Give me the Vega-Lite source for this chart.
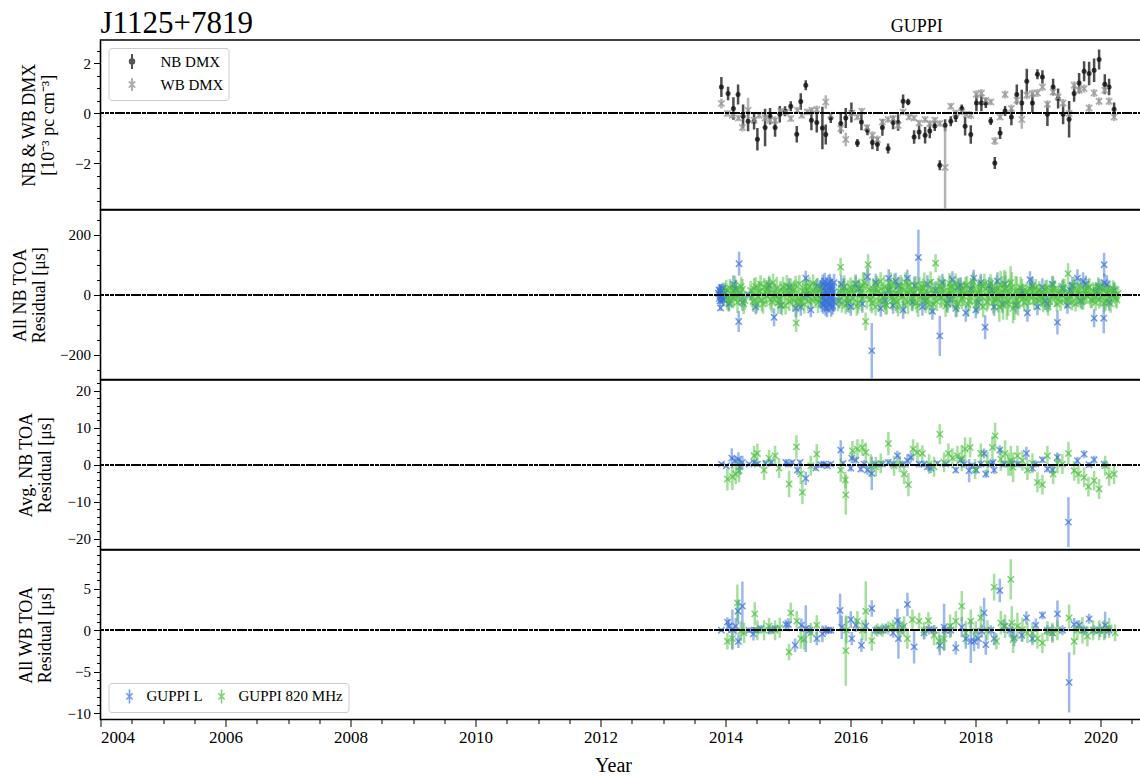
{
  "$schema": "https://vega.github.io/schema/vega-lite/v6.json",
  "padding": {"left": 10.5, "top": 6, "right": 0, "bottom": 0},
  "spacing": 0,
  "bounds": "flush",
  "resolve": {"scale": {"color": "independent", "shape": "independent"}},
  "config": {
    "font": "Liberation Serif",
    "view": {"stroke": "#000", "strokeWidth": 1.6},
    "axis": {"labelFont": "Liberation Serif", "titleFont": "Liberation Serif", "labelColor": "#000", "titleColor": "#000", "tickColor": "#000", "domain": false, "grid": false, "titleFontWeight": "normal", "labelFontSize": 15, "titleFontSize": 18, "titleLineHeight": 19, "tickSize": 7, "tickWidth": 1, "labelPadding": 3, "titlePadding": 11},
    "legend": {"labelFont": "Liberation Serif", "labelFontSize": 15, "labelColor": "#000", "strokeColor": "#cccccc", "fillColor": "rgba(255,255,255,0.8)", "cornerRadius": 3, "title": null}
  },
  "datasets": {
    "dmx": [
      {"s":"NB","t":2013.933,"v":1.05,"e":0.40},{"s":"NB","t":2014.040,"v":0.79,"e":0.27},{"s":"NB","t":2014.125,"v":0.19,"e":0.45},{"s":"NB","t":2014.200,"v":0.75,"e":0.40},
      {"s":"NB","t":2014.280,"v":-0.12,"e":0.47},{"s":"NB","t":2014.360,"v":-0.32,"e":0.40},{"s":"NB","t":2014.456,"v":-0.32,"e":0.33},{"s":"NB","t":2014.509,"v":-1.04,"e":0.45},
      {"s":"NB","t":2014.632,"v":-0.57,"e":0.75},{"s":"NB","t":2014.712,"v":-0.12,"e":0.33},{"s":"NB","t":2014.792,"v":-0.57,"e":0.37},{"s":"NB","t":2014.867,"v":-0.04,"e":0.33},
      {"s":"NB","t":2014.952,"v":0.08,"e":0.20},{"s":"NB","t":2015.043,"v":0.28,"e":0.20},{"s":"NB","t":2015.139,"v":-0.84,"e":0.33},{"s":"NB","t":2015.203,"v":0.47,"e":0.33},
      {"s":"NB","t":2015.283,"v":1.12,"e":0.20},{"s":"NB","t":2015.373,"v":-0.28,"e":0.40},{"s":"NB","t":2015.459,"v":-0.37,"e":0.40},{"s":"NB","t":2015.549,"v":-0.59,"e":0.85},
      {"s":"NB","t":2015.603,"v":-0.85,"e":0.40},{"s":"NB","t":2015.683,"v":-0.19,"e":0.20},{"s":"NB","t":2015.843,"v":-0.41,"e":0.40},{"s":"NB","t":2015.923,"v":-0.19,"e":0.40},
      {"s":"NB","t":2016.013,"v":0.03,"e":0.40},{"s":"NB","t":2016.109,"v":-1.19,"e":0.16},{"s":"NB","t":2016.173,"v":-0.35,"e":0.33},{"s":"NB","t":2016.269,"v":-0.68,"e":0.20},
      {"s":"NB","t":2016.349,"v":-1.17,"e":0.27},{"s":"NB","t":2016.429,"v":-1.24,"e":0.27},{"s":"NB","t":2016.509,"v":-0.57,"e":0.33},{"s":"NB","t":2016.600,"v":-1.41,"e":0.20},
      {"s":"NB","t":2016.680,"v":-0.37,"e":0.27},{"s":"NB","t":2016.760,"v":-0.37,"e":0.33},{"s":"NB","t":2016.840,"v":0.48,"e":0.27},{"s":"NB","t":2016.920,"v":0.45,"e":0.13},
      {"s":"NB","t":2017.016,"v":-0.95,"e":0.27},{"s":"NB","t":2017.096,"v":-0.75,"e":0.29},{"s":"NB","t":2017.192,"v":-0.88,"e":0.33},{"s":"NB","t":2017.267,"v":-0.71,"e":0.29},
      {"s":"NB","t":2017.347,"v":-0.51,"e":0.20},{"s":"NB","t":2017.427,"v":-2.08,"e":0.20},{"s":"NB","t":2017.512,"v":-0.48,"e":0.24},{"s":"NB","t":2017.603,"v":-0.32,"e":0.20},
      {"s":"NB","t":2017.683,"v":-0.15,"e":0.20},{"s":"NB","t":2017.779,"v":0.19,"e":0.16},{"s":"NB","t":2017.832,"v":-0.52,"e":0.37},{"s":"NB","t":2017.923,"v":-0.85,"e":0.37},
      {"s":"NB","t":2018.013,"v":0.41,"e":0.33},{"s":"NB","t":2018.093,"v":0.41,"e":0.33},{"s":"NB","t":2018.163,"v":0.41,"e":0.20},{"s":"NB","t":2018.243,"v":-0.31,"e":0.16},
      {"s":"NB","t":2018.307,"v":-1.99,"e":0.24},{"s":"NB","t":2018.392,"v":-0.79,"e":0.24},{"s":"NB","t":2018.472,"v":0.09,"e":0.20},{"s":"NB","t":2018.573,"v":-0.15,"e":0.33},
      {"s":"NB","t":2018.659,"v":0.75,"e":0.40},{"s":"NB","t":2018.739,"v":0.41,"e":0.53},{"s":"NB","t":2018.819,"v":1.28,"e":0.50},{"s":"NB","t":2018.909,"v":0.41,"e":0.40},
      {"s":"NB","t":2018.989,"v":1.56,"e":0.20},{"s":"NB","t":2019.069,"v":1.45,"e":0.27},{"s":"NB","t":2019.149,"v":-0.04,"e":0.47},{"s":"NB","t":2019.240,"v":1.05,"e":0.33},
      {"s":"NB","t":2019.320,"v":0.59,"e":0.40},{"s":"NB","t":2019.400,"v":-0.04,"e":0.40},{"s":"NB","t":2019.496,"v":-0.24,"e":0.73},{"s":"NB","t":2019.576,"v":0.79,"e":0.33},
      {"s":"NB","t":2019.656,"v":1.21,"e":0.40},{"s":"NB","t":2019.736,"v":1.68,"e":0.40},{"s":"NB","t":2019.816,"v":1.59,"e":0.47},{"s":"NB","t":2019.896,"v":1.72,"e":0.47},
      {"s":"NB","t":2019.976,"v":2.15,"e":0.40},{"s":"NB","t":2020.067,"v":1.16,"e":0.40},{"s":"NB","t":2020.136,"v":1.05,"e":0.33},{"s":"NB","t":2020.216,"v":0.16,"e":0.27},
      {"s":"WB","t":2013.933,"v":0.39,"e":0.20},{"s":"WB","t":2014.029,"v":-0.01,"e":0.13},{"s":"WB","t":2014.109,"v":-0.08,"e":0.13},{"s":"WB","t":2014.205,"v":-0.19,"e":0.13},
      {"s":"WB","t":2014.269,"v":-0.57,"e":0.16},{"s":"WB","t":2014.360,"v":0.12,"e":0.50},{"s":"WB","t":2014.456,"v":-0.28,"e":0.13},{"s":"WB","t":2014.536,"v":-0.08,"e":0.13},
      {"s":"WB","t":2014.632,"v":-0.19,"e":0.13},{"s":"WB","t":2014.712,"v":-0.28,"e":0.13},{"s":"WB","t":2014.792,"v":-0.28,"e":0.16},{"s":"WB","t":2014.883,"v":0.08,"e":0.13},
      {"s":"WB","t":2014.963,"v":0.05,"e":0.13},{"s":"WB","t":2015.043,"v":-0.21,"e":0.13},{"s":"WB","t":2015.149,"v":0.12,"e":0.13},{"s":"WB","t":2015.219,"v":-0.08,"e":0.13},
      {"s":"WB","t":2015.309,"v":0.05,"e":0.13},{"s":"WB","t":2015.379,"v":0.12,"e":0.13},{"s":"WB","t":2015.459,"v":0.15,"e":0.16},{"s":"WB","t":2015.603,"v":0.45,"e":0.27},
      {"s":"WB","t":2015.683,"v":-0.08,"e":0.13},{"s":"WB","t":2015.843,"v":-0.61,"e":0.16},{"s":"WB","t":2015.923,"v":-1.05,"e":0.27},{"s":"WB","t":2016.019,"v":0.01,"e":0.16},
      {"s":"WB","t":2016.109,"v":-0.15,"e":0.13},{"s":"WB","t":2016.179,"v":0.08,"e":0.13},{"s":"WB","t":2016.259,"v":-0.57,"e":0.13},{"s":"WB","t":2016.349,"v":-0.88,"e":0.16},
      {"s":"WB","t":2016.429,"v":-1.05,"e":0.16},{"s":"WB","t":2016.509,"v":-0.35,"e":0.13},{"s":"WB","t":2016.600,"v":-0.25,"e":0.13},{"s":"WB","t":2016.680,"v":-0.21,"e":0.13},
      {"s":"WB","t":2016.760,"v":-0.48,"e":0.16},{"s":"WB","t":2016.840,"v":0.05,"e":0.13},{"s":"WB","t":2016.936,"v":-0.15,"e":0.13},{"s":"WB","t":2017.016,"v":-0.19,"e":0.13},
      {"s":"WB","t":2017.096,"v":-0.39,"e":0.13},{"s":"WB","t":2017.192,"v":-0.25,"e":0.13},{"s":"WB","t":2017.267,"v":-0.41,"e":0.13},{"s":"WB","t":2017.347,"v":-0.28,"e":0.13},
      {"s":"WB","t":2017.427,"v":-0.41,"e":0.13},{"s":"WB","t":2017.512,"v":-2.17,"e":1.75},{"s":"WB","t":2017.603,"v":0.28,"e":0.13},{"s":"WB","t":2017.683,"v":0.01,"e":0.13},
      {"s":"WB","t":2017.779,"v":0.05,"e":0.13},{"s":"WB","t":2017.853,"v":-0.04,"e":0.13},{"s":"WB","t":2017.923,"v":-0.08,"e":0.16},{"s":"WB","t":2018.013,"v":0.76,"e":0.16},
      {"s":"WB","t":2018.093,"v":0.81,"e":0.16},{"s":"WB","t":2018.163,"v":0.52,"e":0.13},{"s":"WB","t":2018.243,"v":0.45,"e":0.13},{"s":"WB","t":2018.307,"v":-1.11,"e":0.16},
      {"s":"WB","t":2018.392,"v":-0.15,"e":0.13},{"s":"WB","t":2018.472,"v":0.75,"e":0.16},{"s":"WB","t":2018.573,"v":0.19,"e":0.16},{"s":"WB","t":2018.659,"v":0.52,"e":0.16},
      {"s":"WB","t":2018.739,"v":-0.25,"e":0.37},{"s":"WB","t":2018.819,"v":0.72,"e":0.16},{"s":"WB","t":2018.909,"v":0.79,"e":0.16},{"s":"WB","t":2018.989,"v":0.81,"e":0.16},
      {"s":"WB","t":2019.069,"v":1.05,"e":0.16},{"s":"WB","t":2019.149,"v":0.36,"e":0.16},{"s":"WB","t":2019.240,"v":0.85,"e":0.16},{"s":"WB","t":2019.320,"v":0.65,"e":0.16},
      {"s":"WB","t":2019.400,"v":0.41,"e":0.16},{"s":"WB","t":2019.496,"v":-0.01,"e":0.16},{"s":"WB","t":2019.576,"v":1.12,"e":0.16},{"s":"WB","t":2019.656,"v":0.92,"e":0.16},
      {"s":"WB","t":2019.736,"v":0.99,"e":0.16},{"s":"WB","t":2019.816,"v":0.21,"e":0.16},{"s":"WB","t":2019.896,"v":0.81,"e":0.16},{"s":"WB","t":2019.976,"v":0.48,"e":0.16},
      {"s":"WB","t":2020.067,"v":0.92,"e":0.16},{"s":"WB","t":2020.136,"v":0.48,"e":0.16},{"s":"WB","t":2020.216,"v":-0.15,"e":0.16}
    ],
    "nb": [
      {"s":"L","t":2013.885,"v":5,"e":18},{"s":"L","t":2013.895,"v":16,"e":20},{"s":"L","t":2013.90,"v":-12,"e":20},{"s":"L","t":2013.91,"v":-20,"e":18},
      {"s":"L","t":2013.915,"v":14,"e":22},{"s":"L","t":2013.92,"v":-44,"e":10},{"s":"L","t":2013.925,"v":10,"e":22},{"s":"L","t":2013.93,"v":-5,"e":20},
      {"s":"L","t":2013.94,"v":-8,"e":20},{"s":"L","t":2013.945,"v":18,"e":18},{"s":"L","t":2013.955,"v":22,"e":18},{"s":"L","t":2013.96,"v":-15,"e":22},
      {"s":"L","t":2013.97,"v":-18,"e":20},{"s":"L","t":2013.975,"v":8,"e":20},{"s":"L","t":2013.98,"v":4,"e":18},
      {"s":"L","t":2014.056,"v":-30,"e":25},{"s":"L","t":2014.125,"v":35,"e":30},{"s":"L","t":2014.16,"v":20,"e":30},{"s":"L","t":2014.21,"v":-89,"e":35},
      {"s":"L","t":2014.216,"v":103,"e":40},{"s":"L","t":2014.269,"v":-25,"e":28},{"s":"L","t":2014.365,"v":0,"e":10},{"s":"L","t":2014.483,"v":-40,"e":25},
      {"s":"L","t":2014.696,"v":30,"e":28},{"s":"L","t":2014.776,"v":-75,"e":30},{"s":"L","t":2014.883,"v":-35,"e":28},{"s":"L","t":2015.016,"v":25,"e":30},
      {"s":"L","t":2015.123,"v":-45,"e":30},{"s":"L","t":2015.203,"v":-40,"e":30},{"s":"L","t":2015.283,"v":55,"e":25},{"s":"L","t":2015.293,"v":0,"e":20},
      {"s":"L","t":2015.363,"v":-50,"e":25},{"s":"L","t":2015.469,"v":30,"e":25},
      {"s":"L","t":2015.525,"v":20,"e":30},{"s":"L","t":2015.53,"v":-15,"e":30},{"s":"L","t":2015.54,"v":-30,"e":28},{"s":"L","t":2015.548,"v":25,"e":32},
      {"s":"L","t":2015.555,"v":35,"e":32},{"s":"L","t":2015.563,"v":-35,"e":28},{"s":"L","t":2015.57,"v":-10,"e":30},{"s":"L","t":2015.578,"v":12,"e":30},
      {"s":"L","t":2015.585,"v":45,"e":28},{"s":"L","t":2015.593,"v":-20,"e":34},{"s":"L","t":2015.60,"v":-40,"e":30},{"s":"L","t":2015.608,"v":30,"e":28},
      {"s":"L","t":2015.615,"v":10,"e":34},{"s":"L","t":2015.623,"v":-45,"e":30},{"s":"L","t":2015.63,"v":-25,"e":30},{"s":"L","t":2015.638,"v":5,"e":32},
      {"s":"L","t":2015.645,"v":38,"e":28},{"s":"L","t":2015.653,"v":-30,"e":30},{"s":"L","t":2015.66,"v":-5,"e":32},{"s":"L","t":2015.668,"v":42,"e":28},
      {"s":"L","t":2015.675,"v":28,"e":30},{"s":"L","t":2015.683,"v":-12,"e":30},{"s":"L","t":2015.69,"v":-45,"e":28},{"s":"L","t":2015.698,"v":22,"e":32},
      {"s":"L","t":2015.705,"v":15,"e":30},{"s":"L","t":2015.713,"v":-38,"e":28},{"s":"L","t":2015.72,"v":-20,"e":32},{"s":"L","t":2015.728,"v":8,"e":30},
      {"s":"L","t":2015.735,"v":40,"e":30},{"s":"L","t":2015.74,"v":-25,"e":30},
      {"s":"L","t":2015.816,"v":-20,"e":25},{"s":"L","t":2015.85,"v":35,"e":30},{"s":"L","t":2015.896,"v":25,"e":30},{"s":"L","t":2015.95,"v":-28,"e":30},
      {"s":"L","t":2016.003,"v":-40,"e":30},{"s":"L","t":2016.083,"v":35,"e":28},{"s":"L","t":2016.13,"v":20,"e":28},
      {"s":"L","t":2016.189,"v":-30,"e":30},{"s":"L","t":2016.269,"v":60,"e":30},{"s":"L","t":2016.339,"v":-186,"e":92},{"s":"L","t":2016.403,"v":40,"e":30},
      {"s":"L","t":2016.483,"v":-45,"e":28},{"s":"L","t":2016.55,"v":-20,"e":30},{"s":"L","t":2016.605,"v":15,"e":20},{"s":"L","t":2016.61,"v":55,"e":30},{"s":"L","t":2016.68,"v":-35,"e":28},
      {"s":"L","t":2016.72,"v":45,"e":28},{"s":"L","t":2016.765,"v":30,"e":30},{"s":"L","t":2016.84,"v":-50,"e":30},{"s":"L","t":2016.909,"v":55,"e":28},{"s":"L","t":2016.989,"v":-25,"e":30},
      {"s":"L","t":2017.02,"v":30,"e":30},{"s":"L","t":2017.085,"v":124,"e":92},{"s":"L","t":2017.149,"v":-40,"e":30},{"s":"L","t":2017.19,"v":-20,"e":28},{"s":"L","t":2017.229,"v":35,"e":30},{"s":"L","t":2017.309,"v":-55,"e":28},
      {"s":"L","t":2017.36,"v":15,"e":30},{"s":"L","t":2017.427,"v":-137,"e":67},{"s":"L","t":2017.469,"v":40,"e":30},{"s":"L","t":2017.549,"v":-30,"e":30},{"s":"L","t":2017.59,"v":-15,"e":28},{"s":"L","t":2017.629,"v":50,"e":28},
      {"s":"L","t":2017.683,"v":-45,"e":30},{"s":"L","t":2017.72,"v":25,"e":30},{"s":"L","t":2017.763,"v":30,"e":28},{"s":"L","t":2017.843,"v":-60,"e":30},{"s":"L","t":2017.923,"v":20,"e":25},
      {"s":"L","t":2017.97,"v":55,"e":28},{"s":"L","t":2018.003,"v":-50,"e":28},{"s":"L","t":2018.05,"v":-25,"e":30},{"s":"L","t":2018.083,"v":40,"e":30},{"s":"L","t":2018.152,"v":-108,"e":40},{"s":"L","t":2018.216,"v":30,"e":28},
      {"s":"L","t":2018.26,"v":15,"e":30},{"s":"L","t":2018.296,"v":-40,"e":30},{"s":"L","t":2018.349,"v":45,"e":30},{"s":"L","t":2018.429,"v":-30,"e":30},{"s":"L","t":2018.47,"v":35,"e":28},
      {"s":"L","t":2018.65,"v":-35,"e":30},{"s":"L","t":2018.749,"v":10,"e":25},
      {"s":"L","t":2018.829,"v":-60,"e":30},{"s":"L","t":2018.87,"v":50,"e":28},{"s":"L","t":2018.909,"v":30,"e":28},{"s":"L","t":2018.989,"v":-40,"e":28},{"s":"L","t":2019.069,"v":25,"e":30},
      {"s":"L","t":2019.11,"v":-20,"e":30},{"s":"L","t":2019.149,"v":-30,"e":28},{"s":"L","t":2019.229,"v":35,"e":28},{"s":"L","t":2019.309,"v":-92,"e":40},{"s":"L","t":2019.389,"v":20,"e":28},
      {"s":"L","t":2019.469,"v":-35,"e":28},{"s":"L","t":2019.51,"v":15,"e":28},{"s":"L","t":2019.549,"v":30,"e":30},{"s":"L","t":2019.629,"v":55,"e":30},{"s":"L","t":2019.683,"v":-20,"e":25},
      {"s":"L","t":2019.72,"v":45,"e":30},{"s":"L","t":2019.763,"v":35,"e":28},{"s":"L","t":2019.896,"v":-78,"e":30},{"s":"L","t":2019.93,"v":10,"e":28},{"s":"L","t":2019.976,"v":25,"e":28},{"s":"L","t":2020.05,"v":-78,"e":50},
      {"s":"L","t":2020.056,"v":100,"e":40},{"s":"L","t":2020.06,"v":40,"e":30},{"s":"L","t":2020.10,"v":35,"e":30},{"s":"L","t":2020.136,"v":-25,"e":28},{"s":"L","t":2020.216,"v":15,"e":25},
      {"s":"820","t":2013.99,"v":10,"e":30},{"s":"820","t":2014.01,"v":18,"e":32},{"s":"820","t":2014.03,"v":-15,"e":35},{"s":"820","t":2014.05,"v":-26,"e":30},
      {"s":"820","t":2014.07,"v":22,"e":30},{"s":"820","t":2014.09,"v":4,"e":36},{"s":"820","t":2014.11,"v":-8,"e":38},{"s":"820","t":2014.13,"v":-12,"e":30},
      {"s":"820","t":2014.15,"v":30,"e":32},{"s":"820","t":2014.17,"v":14,"e":34},{"s":"820","t":2014.19,"v":-25,"e":36},{"s":"820","t":2014.21,"v":-4,"e":30},
      {"s":"820","t":2014.23,"v":5,"e":30},{"s":"820","t":2014.25,"v":28,"e":32},{"s":"820","t":2014.27,"v":18,"e":34},{"s":"820","t":2014.29,"v":-30,"e":34},
      {"s":"820","t":2014.31,"v":-20,"e":30},
      {"s":"820","t":2014.40,"v":14,"e":32},{"s":"820","t":2014.42,"v":-8,"e":32},{"s":"820","t":2014.44,"v":-22,"e":35},{"s":"820","t":2014.46,"v":20,"e":36},
      {"s":"820","t":2014.48,"v":28,"e":30},{"s":"820","t":2014.50,"v":-30,"e":30},{"s":"820","t":2014.52,"v":-6,"e":38},{"s":"820","t":2014.54,"v":12,"e":34},
      {"s":"820","t":2014.56,"v":35,"e":30},{"s":"820","t":2014.58,"v":-18,"e":38},{"s":"820","t":2014.60,"v":-30,"e":33},{"s":"820","t":2014.62,"v":26,"e":30},
      {"s":"820","t":2014.64,"v":9,"e":40},{"s":"820","t":2014.66,"v":-4,"e":35},{"s":"820","t":2014.68,"v":20,"e":28},{"s":"820","t":2014.70,"v":34,"e":30},
      {"s":"820","t":2014.72,"v":-15,"e":35},{"s":"820","t":2014.74,"v":-24,"e":36},{"s":"820","t":2014.76,"v":40,"e":30},{"s":"820","t":2014.78,"v":6,"e":32},
      {"s":"820","t":2014.80,"v":-4,"e":32},{"s":"820","t":2014.82,"v":22,"e":38},{"s":"820","t":2014.84,"v":-28,"e":36},{"s":"820","t":2014.86,"v":-14,"e":30},
      {"s":"820","t":2014.88,"v":16,"e":30},{"s":"820","t":2014.90,"v":-34,"e":34},{"s":"820","t":2014.92,"v":26,"e":34},{"s":"820","t":2014.94,"v":10,"e":30},
      {"s":"820","t":2014.96,"v":-36,"e":30},{"s":"820","t":2014.98,"v":30,"e":36},{"s":"820","t":2015.00,"v":3,"e":35},{"s":"820","t":2015.02,"v":-22,"e":32},
      {"s":"820","t":2015.04,"v":24,"e":31},{"s":"820","t":2015.06,"v":2,"e":38},{"s":"820","t":2015.08,"v":-18,"e":38},{"s":"820","t":2015.10,"v":18,"e":30},
      {"s":"820","t":2015.12,"v":33,"e":30},{"s":"820","t":2015.13,"v":-94,"e":30},{"s":"820","t":2015.14,"v":-28,"e":35},{"s":"820","t":2015.16,"v":-10,"e":33},
      {"s":"820","t":2015.18,"v":36,"e":30},{"s":"820","t":2015.20,"v":-24,"e":30},{"s":"820","t":2015.22,"v":-6,"e":34},{"s":"820","t":2015.24,"v":11,"e":35},
      {"s":"820","t":2015.26,"v":-32,"e":30},{"s":"820","t":2015.28,"v":27,"e":30},{"s":"820","t":2015.30,"v":14,"e":36},{"s":"820","t":2015.32,"v":-21,"e":34},
      {"s":"820","t":2015.34,"v":28,"e":32},{"s":"820","t":2015.36,"v":6,"e":38},{"s":"820","t":2015.38,"v":-16,"e":30},{"s":"820","t":2015.40,"v":38,"e":30},
      {"s":"820","t":2015.42,"v":8,"e":38},{"s":"820","t":2015.44,"v":-12,"e":32},{"s":"820","t":2015.46,"v":24,"e":30},{"s":"820","t":2015.48,"v":-26,"e":35},
      {"s":"820","t":2015.50,"v":-10,"e":34},{"s":"820","t":2015.52,"v":19,"e":30},
      {"s":"820","t":2015.80,"v":-20,"e":35},{"s":"820","t":2015.82,"v":12,"e":34},{"s":"820","t":2015.84,"v":92,"e":30},{"s":"820","t":2015.86,"v":-30,"e":30},
      {"s":"820","t":2015.88,"v":15,"e":38},{"s":"820","t":2015.90,"v":28,"e":36},{"s":"820","t":2015.92,"v":-35,"e":30},{"s":"820","t":2015.94,"v":-10,"e":32},
      {"s":"820","t":2015.96,"v":8,"e":40},{"s":"820","t":2015.98,"v":-22,"e":38},{"s":"820","t":2016.00,"v":25,"e":32},{"s":"820","t":2016.02,"v":16,"e":30},
      {"s":"820","t":2016.04,"v":-12,"e":36},{"s":"820","t":2016.06,"v":4,"e":34},{"s":"820","t":2016.08,"v":38,"e":30},{"s":"820","t":2016.10,"v":-38,"e":32},
      {"s":"820","t":2016.12,"v":-28,"e":34},{"s":"820","t":2016.14,"v":24,"e":30},{"s":"820","t":2016.16,"v":4,"e":30},{"s":"820","t":2016.18,"v":-14,"e":40},
      {"s":"820","t":2016.20,"v":30,"e":45},{"s":"820","t":2016.22,"v":40,"e":35},{"s":"820","t":2016.24,"v":-89,"e":30},{"s":"820","t":2016.26,"v":-6,"e":42},
      {"s":"820","t":2016.28,"v":100,"e":35},{"s":"820","t":2016.30,"v":18,"e":36},{"s":"820","t":2016.32,"v":-15,"e":40},{"s":"820","t":2016.34,"v":-28,"e":34},
      {"s":"820","t":2016.36,"v":20,"e":35},{"s":"820","t":2016.38,"v":8,"e":40},{"s":"820","t":2016.40,"v":-40,"e":30},{"s":"820","t":2016.42,"v":32,"e":30},
      {"s":"820","t":2016.44,"v":12,"e":38},{"s":"820","t":2016.46,"v":-20,"e":36},{"s":"820","t":2016.48,"v":45,"e":30},{"s":"820","t":2016.50,"v":2,"e":32},
      {"s":"820","t":2016.52,"v":-8,"e":34},{"s":"820","t":2016.54,"v":26,"e":38},{"s":"820","t":2016.56,"v":-30,"e":36},{"s":"820","t":2016.58,"v":-36,"e":30},
      {"s":"820","t":2016.60,"v":22,"e":30},{"s":"820","t":2016.62,"v":14,"e":34},{"s":"820","t":2016.64,"v":35,"e":40},{"s":"820","t":2016.66,"v":-10,"e":40},
      {"s":"820","t":2016.68,"v":-18,"e":32},{"s":"820","t":2016.70,"v":38,"e":32},{"s":"820","t":2016.72,"v":6,"e":36},{"s":"820","t":2016.74,"v":-24,"e":36},
      {"s":"820","t":2016.76,"v":-42,"e":30},{"s":"820","t":2016.78,"v":0,"e":30},{"s":"820","t":2016.80,"v":28,"e":38},{"s":"820","t":2016.82,"v":20,"e":38},
      {"s":"820","t":2016.84,"v":-5,"e":30},{"s":"820","t":2016.86,"v":-32,"e":32},{"s":"820","t":2016.88,"v":40,"e":35},{"s":"820","t":2016.90,"v":10,"e":36},
      {"s":"820","t":2016.92,"v":-25,"e":40},{"s":"820","t":2016.94,"v":30,"e":30},{"s":"820","t":2016.96,"v":14,"e":30},{"s":"820","t":2016.98,"v":-18,"e":34},
      {"s":"820","t":2017.00,"v":-12,"e":34},{"s":"820","t":2017.02,"v":6,"e":38},{"s":"820","t":2017.04,"v":32,"e":30},{"s":"820","t":2017.06,"v":-28,"e":32},
      {"s":"820","t":2017.08,"v":-36,"e":38},{"s":"820","t":2017.10,"v":22,"e":36},{"s":"820","t":2017.12,"v":9,"e":36},{"s":"820","t":2017.14,"v":-4,"e":30},
      {"s":"820","t":2017.16,"v":24,"e":30},{"s":"820","t":2017.18,"v":34,"e":40},{"s":"820","t":2017.20,"v":-20,"e":40},{"s":"820","t":2017.22,"v":-16,"e":34},
      {"s":"820","t":2017.24,"v":3,"e":30},{"s":"820","t":2017.26,"v":-34,"e":30},{"s":"820","t":2017.28,"v":42,"e":35},{"s":"820","t":2017.30,"v":16,"e":36},
      {"s":"820","t":2017.32,"v":-30,"e":33},{"s":"820","t":2017.34,"v":4,"e":38},{"s":"820","t":2017.36,"v":105,"e":30},{"s":"820","t":2017.38,"v":-22,"e":32},
      {"s":"820","t":2017.40,"v":18,"e":38},{"s":"820","t":2017.42,"v":28,"e":36},{"s":"820","t":2017.44,"v":-10,"e":34},{"s":"820","t":2017.46,"v":-8,"e":34},
      {"s":"820","t":2017.48,"v":30,"e":30},{"s":"820","t":2017.50,"v":12,"e":40},{"s":"820","t":2017.52,"v":-38,"e":36},{"s":"820","t":2017.54,"v":-26,"e":30},
      {"s":"820","t":2017.56,"v":7,"e":30},{"s":"820","t":2017.58,"v":38,"e":34},{"s":"820","t":2017.60,"v":26,"e":40},{"s":"820","t":2017.62,"v":-2,"e":36},
      {"s":"820","t":2017.64,"v":-16,"e":32},{"s":"820","t":2017.66,"v":18,"e":30},{"s":"820","t":2017.68,"v":36,"e":35},{"s":"820","t":2017.70,"v":-36,"e":38},
      {"s":"820","t":2017.72,"v":-28,"e":30},{"s":"820","t":2017.74,"v":24,"e":32},{"s":"820","t":2017.76,"v":10,"e":38},{"s":"820","t":2017.78,"v":-12,"e":36},
      {"s":"820","t":2017.80,"v":-4,"e":34},{"s":"820","t":2017.82,"v":6,"e":40},{"s":"820","t":2017.84,"v":29,"e":30},{"s":"820","t":2017.86,"v":32,"e":30},
      {"s":"820","t":2017.88,"v":-33,"e":40},{"s":"820","t":2017.90,"v":-20,"e":34},{"s":"820","t":2017.92,"v":15,"e":32},{"s":"820","t":2017.94,"v":2,"e":38},
      {"s":"820","t":2017.96,"v":44,"e":30},{"s":"820","t":2017.98,"v":22,"e":32},{"s":"820","t":2018.00,"v":-22,"e":36},{"s":"820","t":2018.02,"v":-30,"e":36},
      {"s":"820","t":2018.04,"v":5,"e":38},{"s":"820","t":2018.06,"v":14,"e":30},{"s":"820","t":2018.08,"v":33,"e":30},{"s":"820","t":2018.10,"v":-6,"e":40},
      {"s":"820","t":2018.12,"v":-40,"e":35},{"s":"820","t":2018.14,"v":36,"e":34},{"s":"820","t":2018.16,"v":20,"e":32},{"s":"820","t":2018.18,"v":-24,"e":32},
      {"s":"820","t":2018.20,"v":-8,"e":40},{"s":"820","t":2018.22,"v":8,"e":38},{"s":"820","t":2018.24,"v":38,"e":30},{"s":"820","t":2018.26,"v":26,"e":30},
      {"s":"820","t":2018.28,"v":-26,"e":36},{"s":"820","t":2018.30,"v":-16,"e":40},{"s":"820","t":2018.32,"v":12,"e":34},{"s":"820","t":2018.34,"v":20,"e":45},
      {"s":"820","t":2018.36,"v":-14,"e":45},{"s":"820","t":2018.38,"v":-40,"e":50},{"s":"820","t":2018.40,"v":30,"e":50},{"s":"820","t":2018.42,"v":10,"e":52},
      {"s":"820","t":2018.44,"v":-35,"e":48},{"s":"820","t":2018.46,"v":34,"e":48},{"s":"820","t":2018.48,"v":22,"e":55},{"s":"820","t":2018.50,"v":-28,"e":55},
      {"s":"820","t":2018.52,"v":-20,"e":50},{"s":"820","t":2018.54,"v":4,"e":50},{"s":"820","t":2018.56,"v":40,"e":55},{"s":"820","t":2018.58,"v":24,"e":52},
      {"s":"820","t":2018.60,"v":-45,"e":50},{"s":"820","t":2018.62,"v":-36,"e":48},{"s":"820","t":2018.64,"v":10,"e":52},{"s":"820","t":2018.66,"v":16,"e":45},
      {"s":"820","t":2018.68,"v":-30,"e":40},{"s":"820","t":2018.70,"v":-8,"e":38},{"s":"820","t":2018.72,"v":25,"e":35},{"s":"820","t":2018.74,"v":20,"e":32},
      {"s":"820","t":2018.76,"v":-12,"e":30},{"s":"820","t":2018.78,"v":-26,"e":30},{"s":"820","t":2018.80,"v":8,"e":28},{"s":"820","t":2018.82,"v":12,"e":28},
      {"s":"820","t":2018.84,"v":-22,"e":30},{"s":"820","t":2018.86,"v":-4,"e":30},{"s":"820","t":2018.88,"v":18,"e":26},{"s":"820","t":2018.90,"v":26,"e":28},
      {"s":"820","t":2018.92,"v":-5,"e":30},{"s":"820","t":2018.94,"v":-20,"e":30},{"s":"820","t":2018.96,"v":24,"e":28},{"s":"820","t":2018.98,"v":8,"e":26},
      {"s":"820","t":2019.00,"v":-18,"e":30},{"s":"820","t":2019.02,"v":16,"e":30},{"s":"820","t":2019.04,"v":6,"e":26},{"s":"820","t":2019.06,"v":-14,"e":28},
      {"s":"820","t":2019.08,"v":-28,"e":30},{"s":"820","t":2019.10,"v":2,"e":30},{"s":"820","t":2019.12,"v":20,"e":28},{"s":"820","t":2019.14,"v":24,"e":26},
      {"s":"820","t":2019.16,"v":-40,"e":30},{"s":"820","t":2019.18,"v":-22,"e":30},{"s":"820","t":2019.20,"v":14,"e":30},{"s":"820","t":2019.22,"v":-6,"e":28},
      {"s":"820","t":2019.24,"v":32,"e":28},{"s":"820","t":2019.26,"v":18,"e":30},{"s":"820","t":2019.28,"v":-10,"e":30},{"s":"820","t":2019.30,"v":-30,"e":26},
      {"s":"820","t":2019.32,"v":4,"e":26},{"s":"820","t":2019.34,"v":10,"e":30},{"s":"820","t":2019.36,"v":-24,"e":30},{"s":"820","t":2019.38,"v":0,"e":28},
      {"s":"820","t":2019.40,"v":26,"e":28},{"s":"820","t":2019.42,"v":22,"e":30},{"s":"820","t":2019.44,"v":-14,"e":30},{"s":"820","t":2019.46,"v":-18,"e":28},
      {"s":"820","t":2019.48,"v":70,"e":35},{"s":"820","t":2019.50,"v":8,"e":30},{"s":"820","t":2019.52,"v":-6,"e":28},{"s":"820","t":2019.54,"v":-26,"e":26},
      {"s":"820","t":2019.56,"v":18,"e":30},{"s":"820","t":2019.58,"v":30,"e":30},{"s":"820","t":2019.60,"v":-30,"e":26},{"s":"820","t":2019.62,"v":-10,"e":28},
      {"s":"820","t":2019.64,"v":10,"e":30},{"s":"820","t":2019.66,"v":4,"e":30},{"s":"820","t":2019.68,"v":28,"e":28},{"s":"820","t":2019.70,"v":-24,"e":26},
      {"s":"820","t":2019.72,"v":-20,"e":30},{"s":"820","t":2019.74,"v":16,"e":30},{"s":"820","t":2019.76,"v":2,"e":26},{"s":"820","t":2019.78,"v":-2,"e":28},
      {"s":"820","t":2019.80,"v":22,"e":30},{"s":"820","t":2019.82,"v":26,"e":30},{"s":"820","t":2019.84,"v":-16,"e":28},{"s":"820","t":2019.86,"v":-20,"e":26},
      {"s":"820","t":2019.88,"v":12,"e":30},{"s":"820","t":2019.90,"v":6,"e":30},{"s":"820","t":2019.92,"v":-26,"e":26},{"s":"820","t":2019.94,"v":14,"e":28},
      {"s":"820","t":2019.96,"v":30,"e":28},{"s":"820","t":2019.98,"v":-16,"e":30},{"s":"820","t":2020.00,"v":-8,"e":30},{"s":"820","t":2020.02,"v":24,"e":26},
      {"s":"820","t":2020.04,"v":16,"e":28},{"s":"820","t":2020.06,"v":-28,"e":30},{"s":"820","t":2020.08,"v":-22,"e":30},{"s":"820","t":2020.10,"v":2,"e":28},
      {"s":"820","t":2020.12,"v":8,"e":26},{"s":"820","t":2020.14,"v":18,"e":30},{"s":"820","t":2020.16,"v":-30,"e":30},{"s":"820","t":2020.18,"v":-6,"e":26},
      {"s":"820","t":2020.20,"v":20,"e":28},{"s":"820","t":2020.22,"v":12,"e":30},{"s":"820","t":2020.24,"v":-12,"e":30},{"s":"820","t":2020.26,"v":-18,"e":28},
      {"s":"820","t":2020.28,"v":4,"e":26}
    ],
    "avg": [
      {"s":"L","t":2013.933,"v":0.18,"e":0.45},{"s":"L","t":2014.013,"v":-0.27,"e":0.45},{"s":"L","t":2014.099,"v":1.79,"e":2.69},{"s":"L","t":2014.152,"v":1.08,"e":1.34},
      {"s":"L","t":2014.205,"v":1.43,"e":1.97},{"s":"L","t":2014.227,"v":-0.54,"e":2.24},{"s":"L","t":2014.269,"v":0.63,"e":1.79},{"s":"L","t":2014.376,"v":0.18,"e":0.45},
      {"s":"L","t":2014.456,"v":0.63,"e":0.9},{"s":"L","t":2014.509,"v":0.18,"e":0.72},{"s":"L","t":2014.643,"v":0.36,"e":0.72},{"s":"L","t":2014.733,"v":0.63,"e":0.72},
      {"s":"L","t":2014.963,"v":0.63,"e":0.9},{"s":"L","t":2015.005,"v":0.18,"e":0.9},{"s":"L","t":2015.069,"v":0.63,"e":0.72},{"s":"L","t":2015.149,"v":-1.43,"e":1.34},
      {"s":"L","t":2015.192,"v":0.63,"e":0.72},{"s":"L","t":2015.283,"v":-3.67,"e":1.79},{"s":"L","t":2015.443,"v":-0.9,"e":0.72},{"s":"L","t":2015.523,"v":0,"e":0.9},
      {"s":"L","t":2015.576,"v":0.18,"e":0.9},{"s":"L","t":2015.629,"v":-0.27,"e":0.72},{"s":"L","t":2015.683,"v":0.18,"e":0.72},{"s":"L","t":2015.843,"v":3.94,"e":2.69},
      {"s":"L","t":2015.880,"v":0.36,"e":0.72},{"s":"L","t":2016.003,"v":-0.9,"e":0.9},{"s":"L","t":2016.019,"v":1.79,"e":1.34},{"s":"L","t":2016.083,"v":1.25,"e":0.9},
      {"s":"L","t":2016.163,"v":-1.16,"e":0.9},{"s":"L","t":2016.216,"v":0.18,"e":1.08},{"s":"L","t":2016.269,"v":-1.43,"e":1.34},{"s":"L","t":2016.339,"v":-2.33,"e":4.48},
      {"s":"L","t":2016.403,"v":0.18,"e":0.9},{"s":"L","t":2016.509,"v":0.18,"e":0.9},{"s":"L","t":2016.605,"v":0.63,"e":0.9},{"s":"L","t":2016.680,"v":0.18,"e":0.9},
      {"s":"L","t":2016.749,"v":2.42,"e":1.34},{"s":"L","t":2016.829,"v":0.18,"e":0.9},{"s":"L","t":2016.909,"v":1.08,"e":1.79},{"s":"L","t":2016.963,"v":1.97,"e":1.34},
      {"s":"L","t":2017.096,"v":0.18,"e":0.9},{"s":"L","t":2017.176,"v":0.18,"e":0.9},{"s":"L","t":2017.229,"v":-0.54,"e":0.9},{"s":"L","t":2017.283,"v":-0.9,"e":1.34},
      {"s":"L","t":2017.389,"v":0.36,"e":0.72},{"s":"L","t":2017.523,"v":0.18,"e":0.72},{"s":"L","t":2017.683,"v":-1.43,"e":0.9},{"s":"L","t":2017.763,"v":1.25,"e":0.72},
      {"s":"L","t":2017.816,"v":0.18,"e":1.08},{"s":"L","t":2017.896,"v":-1.61,"e":3.14},{"s":"L","t":2017.949,"v":-0.27,"e":0.9},{"s":"L","t":2018.013,"v":-1.43,"e":1.08},
      {"s":"L","t":2018.083,"v":0.18,"e":1.08},{"s":"L","t":2018.136,"v":3.05,"e":1.34},{"s":"L","t":2018.163,"v":-2.51,"e":1.08},{"s":"L","t":2018.243,"v":0.18,"e":0.9},
      {"s":"L","t":2018.280,"v":0.63,"e":0.9},{"s":"L","t":2018.296,"v":-1.43,"e":1.08},{"s":"L","t":2018.387,"v":3.94,"e":1.34},{"s":"L","t":2018.456,"v":0.18,"e":0.9},
      {"s":"L","t":2018.579,"v":0.36,"e":1.34},{"s":"L","t":2018.669,"v":0.18,"e":0.9},{"s":"L","t":2018.813,"v":3.05,"e":1.79},{"s":"L","t":2018.909,"v":-0.9,"e":1.08},
      {"s":"L","t":2018.963,"v":0.18,"e":0.9},{"s":"L","t":2019.069,"v":1.34,"e":0.9},{"s":"L","t":2019.149,"v":-1.16,"e":0.9},{"s":"L","t":2019.229,"v":-1.43,"e":1.08},
      {"s":"L","t":2019.309,"v":1.97,"e":1.34},{"s":"L","t":2019.485,"v":-15.5,"e":6.72},{"s":"L","t":2019.629,"v":1.08,"e":1.08},{"s":"L","t":2019.736,"v":2.87,"e":1.08},
      {"s":"L","t":2019.816,"v":0,"e":0.72},{"s":"L","t":2019.896,"v":1.34,"e":1.08},{"s":"L","t":2020.056,"v":0.18,"e":0.9},
      {"s":"820","t":2014.029,"v":-3.85,"e":3.14},{"s":"820","t":2014.109,"v":-3.23,"e":3.58},{"s":"820","t":2014.163,"v":-2.51,"e":2.69},{"s":"820","t":2014.216,"v":-1.61,"e":3.14},
      {"s":"820","t":2014.456,"v":2.42,"e":2.69},{"s":"820","t":2014.509,"v":3.05,"e":2.69},{"s":"820","t":2014.616,"v":-1.43,"e":2.69},{"s":"820","t":2014.696,"v":1.79,"e":2.24},
      {"s":"820","t":2014.792,"v":2.42,"e":2.69},{"s":"820","t":2014.856,"v":-0.9,"e":2.69},{"s":"820","t":2015.016,"v":-5.2,"e":3.58},{"s":"820","t":2015.133,"v":4.84,"e":3.14},
      {"s":"820","t":2015.203,"v":-2.51,"e":2.69},{"s":"820","t":2015.229,"v":-7.44,"e":3.14},{"s":"820","t":2015.363,"v":-0.27,"e":2.69},{"s":"820","t":2015.459,"v":2.87,"e":2.69},
      {"s":"820","t":2015.843,"v":-1.43,"e":3.14},{"s":"820","t":2015.915,"v":-4.12,"e":2.24},{"s":"820","t":2015.923,"v":-8.15,"e":5.38},{"s":"820","t":2016.029,"v":3.76,"e":2.69},
      {"s":"820","t":2016.109,"v":4.21,"e":2.69},{"s":"820","t":2016.189,"v":4.66,"e":2.24},{"s":"820","t":2016.243,"v":3.32,"e":2.69},{"s":"820","t":2016.323,"v":-0.27,"e":3.14},
      {"s":"820","t":2016.403,"v":-0.54,"e":2.69},{"s":"820","t":2016.483,"v":0.36,"e":2.69},{"s":"820","t":2016.605,"v":5.73,"e":3.14},{"s":"820","t":2016.696,"v":-0.27,"e":2.69},
      {"s":"820","t":2016.787,"v":0.18,"e":2.24},{"s":"820","t":2016.856,"v":-2.51,"e":2.69},{"s":"820","t":2016.925,"v":-5.38,"e":3.14},{"s":"820","t":2017.000,"v":4.21,"e":2.69},
      {"s":"820","t":2017.069,"v":3.32,"e":2.69},{"s":"820","t":2017.149,"v":3.05,"e":2.24},{"s":"820","t":2017.256,"v":0.18,"e":2.69},{"s":"820","t":2017.336,"v":-0.54,"e":2.69},
      {"s":"820","t":2017.427,"v":8.24,"e":2.69},{"s":"820","t":2017.496,"v":0.63,"e":2.69},{"s":"820","t":2017.565,"v":3.05,"e":2.69},{"s":"820","t":2017.629,"v":1.79,"e":2.69},
      {"s":"820","t":2017.709,"v":2.42,"e":2.69},{"s":"820","t":2017.779,"v":1.79,"e":3.58},{"s":"820","t":2017.832,"v":4.21,"e":3.14},{"s":"820","t":2017.912,"v":4.66,"e":2.69},
      {"s":"820","t":2017.992,"v":-1.16,"e":2.69},{"s":"820","t":2018.083,"v":3.05,"e":2.69},{"s":"820","t":2018.189,"v":0.36,"e":3.14},{"s":"820","t":2018.269,"v":4.66,"e":3.14},
      {"s":"820","t":2018.312,"v":7.8,"e":3.58},{"s":"820","t":2018.403,"v":1.52,"e":3.14},{"s":"820","t":2018.472,"v":3.05,"e":3.58},{"s":"820","t":2018.525,"v":0.18,"e":3.14},
      {"s":"820","t":2018.563,"v":1.08,"e":4.03},{"s":"820","t":2018.600,"v":-0.72,"e":4.03},{"s":"820","t":2018.669,"v":2.42,"e":2.69},{"s":"820","t":2018.749,"v":1.08,"e":2.69},
      {"s":"820","t":2018.829,"v":-1.43,"e":2.69},{"s":"820","t":2018.909,"v":0.36,"e":2.69},{"s":"820","t":2018.989,"v":-4.75,"e":2.69},{"s":"820","t":2019.069,"v":-5.38,"e":2.69},
      {"s":"820","t":2019.149,"v":2.42,"e":2.69},{"s":"820","t":2019.240,"v":-2.51,"e":2.69},{"s":"820","t":2019.309,"v":0.36,"e":2.69},{"s":"820","t":2019.389,"v":0.18,"e":2.69},
      {"s":"820","t":2019.485,"v":3.05,"e":3.14},{"s":"820","t":2019.576,"v":-1.61,"e":2.69},{"s":"820","t":2019.645,"v":-2.51,"e":2.69},{"s":"820","t":2019.736,"v":-3.41,"e":2.69},
      {"s":"820","t":2019.805,"v":-5.91,"e":2.69},{"s":"820","t":2019.896,"v":-4.3,"e":2.69},{"s":"820","t":2019.976,"v":-6.54,"e":2.69},{"s":"820","t":2020.072,"v":-0.27,"e":2.69},
      {"s":"820","t":2020.136,"v":-2.96,"e":2.69},{"s":"820","t":2020.216,"v":-2.51,"e":2.69}
    ],
    "wb": [
      {"s":"L","t":2013.933,"v":0,"e":0.2},{"s":"L","t":2014.029,"v":0.97,"e":0.6},{"s":"L","t":2014.056,"v":0.48,"e":0.8},{"s":"L","t":2014.109,"v":0.08,"e":2.42},
      {"s":"L","t":2014.163,"v":0.48,"e":1.0},{"s":"L","t":2014.205,"v":-1.33,"e":0.8},{"s":"L","t":2014.200,"v":2.29,"e":1.41},{"s":"L","t":2014.269,"v":2.9,"e":2.98},
      {"s":"L","t":2014.376,"v":0,"e":0.32},{"s":"L","t":2014.445,"v":-0.44,"e":0.8},{"s":"L","t":2014.483,"v":0,"e":0.4},{"s":"L","t":2014.563,"v":0.2,"e":0.4},
      {"s":"L","t":2014.723,"v":0,"e":0.48},{"s":"L","t":2014.792,"v":0.2,"e":0.4},{"s":"L","t":2014.963,"v":0.68,"e":0.6},{"s":"L","t":2015.005,"v":0.68,"e":0.8},
      {"s":"L","t":2015.112,"v":-1.81,"e":0.8},{"s":"L","t":2015.213,"v":0.6,"e":0.8},{"s":"L","t":2015.283,"v":0.2,"e":2.82},{"s":"L","t":2015.347,"v":0,"e":0.6},
      {"s":"L","t":2015.459,"v":-1.01,"e":0.8},{"s":"L","t":2015.549,"v":-0.44,"e":1.0},{"s":"L","t":2015.603,"v":0,"e":0.6},{"s":"L","t":2015.645,"v":0,"e":0.4},
      {"s":"L","t":2015.683,"v":0,"e":0.4},{"s":"L","t":2015.832,"v":2.38,"e":2.01},{"s":"L","t":2015.859,"v":0.36,"e":1.41},{"s":"L","t":2016.003,"v":1.29,"e":1.0},
      {"s":"L","t":2016.019,"v":-1.01,"e":0.8},{"s":"L","t":2016.083,"v":0.6,"e":0.8},{"s":"L","t":2016.173,"v":-1.81,"e":0.8},{"s":"L","t":2016.243,"v":0.48,"e":0.8},
      {"s":"L","t":2016.339,"v":2.62,"e":1.0},{"s":"L","t":2016.403,"v":0,"e":0.6},{"s":"L","t":2016.483,"v":0,"e":0.6},{"s":"L","t":2016.563,"v":0.2,"e":0.6},
      {"s":"L","t":2016.680,"v":-0.32,"e":0.6},{"s":"L","t":2016.749,"v":1.17,"e":1.41},{"s":"L","t":2016.765,"v":-1.01,"e":2.42},{"s":"L","t":2016.829,"v":0.28,"e":0.8},
      {"s":"L","t":2016.909,"v":3.1,"e":1.41},{"s":"L","t":2017.016,"v":-2.01,"e":2.01},{"s":"L","t":2017.176,"v":-0.32,"e":0.8},{"s":"L","t":2017.256,"v":0.08,"e":0.6},
      {"s":"L","t":2017.336,"v":0,"e":0.6},{"s":"L","t":2017.427,"v":-1.81,"e":1.21},{"s":"L","t":2017.496,"v":0.36,"e":2.82},{"s":"L","t":2017.512,"v":0,"e":0.6},
      {"s":"L","t":2017.603,"v":0,"e":0.8},{"s":"L","t":2017.683,"v":-2.13,"e":0.8},{"s":"L","t":2017.779,"v":0.36,"e":1.21},{"s":"L","t":2017.843,"v":-1.01,"e":1.21},
      {"s":"L","t":2017.923,"v":-1.33,"e":2.62},{"s":"L","t":2017.976,"v":-1.33,"e":1.21},{"s":"L","t":2018.045,"v":-1.01,"e":1.21},{"s":"L","t":2018.099,"v":-0.12,"e":0.8},
      {"s":"L","t":2018.136,"v":2.09,"e":1.81},{"s":"L","t":2018.163,"v":-1.73,"e":1.21},{"s":"L","t":2018.243,"v":0,"e":0.6},{"s":"L","t":2018.296,"v":-1.01,"e":0.8},
      {"s":"L","t":2018.387,"v":4.79,"e":1.41},{"s":"L","t":2018.456,"v":0.48,"e":0.8},{"s":"L","t":2018.547,"v":0,"e":0.8},{"s":"L","t":2018.616,"v":-0.93,"e":1.0},
      {"s":"L","t":2018.739,"v":-0.6,"e":0.8},{"s":"L","t":2018.813,"v":1.49,"e":0.8},{"s":"L","t":2018.909,"v":-1.01,"e":0.8},{"s":"L","t":2018.963,"v":0.6,"e":0.8},
      {"s":"L","t":2019.069,"v":1.81,"e":0.48},{"s":"L","t":2019.149,"v":0,"e":0.6},{"s":"L","t":2019.229,"v":-0.32,"e":1.0},{"s":"L","t":2019.309,"v":1.97,"e":1.61},
      {"s":"L","t":2019.389,"v":0,"e":0.6},{"s":"L","t":2019.496,"v":-6.28,"e":3.62},{"s":"L","t":2019.576,"v":0.68,"e":0.8},{"s":"L","t":2019.656,"v":0.6,"e":0.6},
      {"s":"L","t":2019.736,"v":0,"e":0.6},{"s":"L","t":2019.816,"v":1.37,"e":0.6},{"s":"L","t":2019.896,"v":0,"e":0.6},{"s":"L","t":2019.992,"v":0,"e":0.8},
      {"s":"L","t":2020.072,"v":0.6,"e":1.61},{"s":"L","t":2020.136,"v":0,"e":0.6},
      {"s":"820","t":2014.029,"v":-1.33,"e":1.0},{"s":"820","t":2014.109,"v":-1.01,"e":1.21},{"s":"820","t":2014.189,"v":3.3,"e":2.21},{"s":"820","t":2014.243,"v":-0.12,"e":1.21},
      {"s":"820","t":2014.296,"v":-0.32,"e":1.21},{"s":"820","t":2014.467,"v":1.97,"e":1.41},{"s":"820","t":2014.509,"v":0,"e":1.21},{"s":"820","t":2014.616,"v":0,"e":1.21},
      {"s":"820","t":2014.696,"v":0.48,"e":1.0},{"s":"820","t":2014.792,"v":0,"e":1.21},{"s":"820","t":2014.867,"v":0.28,"e":1.21},{"s":"820","t":2015.016,"v":-2.62,"e":1.0},
      {"s":"820","t":2015.043,"v":2.09,"e":1.21},{"s":"820","t":2015.139,"v":1.09,"e":1.21},{"s":"820","t":2015.203,"v":-1.01,"e":1.21},{"s":"820","t":2015.256,"v":-1.13,"e":1.21},
      {"s":"820","t":2015.363,"v":-0.32,"e":1.21},{"s":"820","t":2015.459,"v":0.6,"e":1.21},{"s":"820","t":2015.923,"v":-2.46,"e":4.23},{"s":"820","t":2015.933,"v":0,"e":1.61},
      {"s":"820","t":2016.109,"v":1.09,"e":1.21},{"s":"820","t":2016.189,"v":0,"e":1.21},{"s":"820","t":2016.243,"v":2.29,"e":3.62},{"s":"820","t":2016.339,"v":-1.25,"e":1.21},
      {"s":"820","t":2016.429,"v":0,"e":0.8},{"s":"820","t":2016.509,"v":0,"e":0.8},{"s":"820","t":2016.605,"v":0.28,"e":0.8},{"s":"820","t":2016.680,"v":0.48,"e":0.8},
      {"s":"820","t":2016.787,"v":0,"e":1.21},{"s":"820","t":2016.856,"v":0.48,"e":1.21},{"s":"820","t":2016.909,"v":-1.01,"e":1.21},{"s":"820","t":2016.989,"v":1.29,"e":1.21},
      {"s":"820","t":2017.096,"v":1.09,"e":1.0},{"s":"820","t":2017.176,"v":0,"e":1.0},{"s":"820","t":2017.245,"v":1.17,"e":1.0},{"s":"820","t":2017.336,"v":-0.6,"e":1.21},
      {"s":"820","t":2017.416,"v":-1.33,"e":1.21},{"s":"820","t":2017.496,"v":-1.01,"e":1.41},{"s":"820","t":2017.592,"v":0.48,"e":1.41},{"s":"820","t":2017.683,"v":1.09,"e":1.21},
      {"s":"820","t":2017.779,"v":2.9,"e":1.81},{"s":"820","t":2017.843,"v":-0.32,"e":1.41},{"s":"820","t":2017.923,"v":1.09,"e":1.41},{"s":"820","t":2018.003,"v":-0.12,"e":1.21},
      {"s":"820","t":2018.083,"v":1.49,"e":1.41},{"s":"820","t":2018.189,"v":0,"e":1.21},{"s":"820","t":2018.296,"v":5.19,"e":1.61},{"s":"820","t":2018.333,"v":-1.33,"e":1.0},
      {"s":"820","t":2018.403,"v":0.89,"e":1.41},{"s":"820","t":2018.472,"v":0.48,"e":1.41},{"s":"820","t":2018.563,"v":6.12,"e":2.42},{"s":"820","t":2018.579,"v":0.89,"e":2.01},
      {"s":"820","t":2018.600,"v":-1.13,"e":1.61},{"s":"820","t":2018.669,"v":0.48,"e":1.61},{"s":"820","t":2018.749,"v":0.08,"e":1.41},{"s":"820","t":2018.829,"v":-0.32,"e":1.21},
      {"s":"820","t":2018.909,"v":-0.32,"e":1.21},{"s":"820","t":2018.989,"v":-1.01,"e":1.21},{"s":"820","t":2019.069,"v":-1.53,"e":1.21},{"s":"820","t":2019.149,"v":-0.12,"e":1.21},
      {"s":"820","t":2019.229,"v":-0.32,"e":1.21},{"s":"820","t":2019.309,"v":0,"e":1.21},{"s":"820","t":2019.496,"v":1.49,"e":1.61},{"s":"820","t":2019.576,"v":-1.33,"e":1.61},
      {"s":"820","t":2019.629,"v":0,"e":1.21},{"s":"820","t":2019.709,"v":0,"e":1.61},{"s":"820","t":2019.789,"v":-0.72,"e":1.21},{"s":"820","t":2019.880,"v":0,"e":1.21},
      {"s":"820","t":2019.976,"v":0,"e":1.21},{"s":"820","t":2020.056,"v":0,"e":1.21},{"s":"820","t":2020.136,"v":0.28,"e":1.21},{"s":"820","t":2020.232,"v":-0.32,"e":1.0}
    ]
  },
  "vconcat": [
    {
      "width": 1047, "height": 169.5,
      "data": {"name": "dmx"},
      "resolve": {"axis": {"x": "independent", "y": "independent"}},
      "layer": [
        {
          "transform": [{"filter": "datum.s === 'NB'"}],
          "mark": {"type": "errorbar", "ticks": false, "clip": true, "rule": {"strokeWidth": 2.5, "opacity": 0.75, "color": "#111111"}},
          "encoding": {
            "x": {"field": "t", "type": "quantitative", "scale": {"domain": [2004, 2020.75], "nice": false, "zero": false}, "axis": null},
            "y": {"field": "v", "type": "quantitative", "scale": {"domain": [-3.85, 2.93], "nice": false, "zero": false},
                  "axis": {"orient": "left", "values": [-2, 0, 2], "title": ["NB & WB DMX", "[10⁻³ pc cm⁻³]"], "titlePadding": 17}},
            "yError": {"field": "e"}
          }
        },
        {
          "transform": [{"filter": "datum.s === 'WB'"}],
          "mark": {"type": "errorbar", "ticks": false, "clip": true, "rule": {"strokeWidth": 2.5, "opacity": 0.75, "color": "#9a9a9a"}},
          "encoding": {
            "x": {"field": "t", "type": "quantitative", "axis": null},
            "y": {"field": "v", "type": "quantitative", "axis": null},
            "yError": {"field": "e"}
          }
        },
        {
          "transform": [{"filter": "datum.s === 'NB'"}],
          "mark": {"type": "point", "shape": "circle", "filled": true, "size": 25, "opacity": 0.8, "color": "#111111", "clip": true},
          "encoding": {
            "x": {"field": "t", "type": "quantitative", "axis": null},
            "y": {"field": "v", "type": "quantitative", "axis": null}
          }
        },
        {
          "transform": [{"filter": "datum.s === 'WB'"}],
          "mark": {"type": "point", "shape": "M-1,-1L1,1M-1,1L1,-1", "filled": false, "size": 40, "strokeWidth": 1.6, "opacity": 0.8, "color": "#9a9a9a", "clip": true},
          "encoding": {
            "x": {"field": "t", "type": "quantitative", "axis": null},
            "y": {"field": "v", "type": "quantitative", "axis": null}
          }
        },
        {
          "mark": {"type": "rule", "color": "#000", "strokeWidth": 1, "strokeDash": [3.7, 1.6]},
          "encoding": {"y": {"datum": 0, "axis": {"orient": "left", "values": [-3.5, -3, -2.5, -1.5, -1, -0.5, 0.5, 1, 1.5, 2.5], "labels": false, "title": null, "tickSize": 4}}}
        },
        {
          "data": {"values": [{"label": "J1125+7819"}]},
          "mark": {"type": "text", "align": "left", "baseline": "alphabetic", "fontSize": 31, "font": "Liberation Serif", "color": "#000", "clip": false},
          "encoding": {"x": {"datum": 2004, "axis": null}, "y": {"datum": 3.23, "axis": null}, "text": {"field": "label"}}
        },
        {
          "data": {"values": [{"label": "GUPPI"}]},
          "mark": {"type": "text", "align": "center", "baseline": "alphabetic", "fontSize": 18, "font": "Liberation Serif", "color": "#000", "clip": false},
          "encoding": {"x": {"datum": 2017.06, "axis": null}, "y": {"datum": 3.26, "axis": null}, "text": {"field": "label"}}
        },
        {
          "data": {"values": [{"s": "NB"}, {"s": "WB"}]},
          "mark": {"type": "point", "filled": false, "opacity": 0, "clip": true},
          "encoding": {
            "x": {"datum": 2004, "axis": null},
            "y": {"datum": 0, "axis": null},
            "color": {"field": "s", "type": "nominal", "scale": {"domain": ["NB", "WB"], "range": ["#333333", "#a0a0a0"]},
              "legend": {"orient": "top-left", "offset": 8, "padding": 5, "symbolSize": 225, "symbolOffset": 10, "labelOffset": 20, "rowPadding": 1,
                "symbolOpacity": 0.85, "symbolStrokeWidth": 2, "symbolFillColor": "#222222", "labelExpr": "datum.value + ' DMX'"}},
            "shape": {"field": "s", "type": "nominal",
              "scale": {"domain": ["NB", "WB"], "range": ["M0,-1L0,1M0.3,0A0.3,0.3 0 1 1 -0.3,0A0.3,0.3 0 1 1 0.3,0Z", "M0,-0.85L0,0.85M-0.42,-0.42L0.42,0.42M-0.42,0.42L0.42,-0.42"]},
              "legend": {"orient": "top-left", "offset": 8, "padding": 5, "symbolSize": 225, "symbolOffset": 10, "labelOffset": 20, "rowPadding": 1,
                "symbolOpacity": 0.85, "symbolStrokeWidth": 2, "symbolFillColor": "#222222", "labelExpr": "datum.value + ' DMX'"}}
          }
        }
      ]
    },
    {
      "width": 1047, "height": 169.5,
      "data": {"name": "nb"},
      "resolve": {"axis": {"x": "independent", "y": "independent"}},
      "layer": [
        {
          "mark": {"type": "errorbar", "ticks": false, "clip": true, "rule": {"strokeWidth": 2.5, "opacity": 0.5}},
          "encoding": {
            "x": {"field": "t", "type": "quantitative", "scale": {"domain": [2004, 2020.75], "nice": false, "zero": false}, "axis": null},
            "y": {"field": "v", "type": "quantitative", "scale": {"domain": [-282, 282], "nice": false, "zero": false},
                  "axis": {"orient": "left", "values": [-200, 0, 200], "title": ["All NB TOA", "Residual [μs]"]}},
            "yError": {"field": "e"},
            "color": {"field": "s", "type": "nominal", "scale": {"domain": ["L", "820"], "range": ["#3a72d9", "#4cc13e"]}, "legend": null}
          }
        },
        {
          "mark": {"type": "point", "shape": "M-1,-1L1,1M-1,1L1,-1", "filled": false, "size": 40, "strokeWidth": 1.5, "opacity": 0.7, "clip": true},
          "encoding": {
            "x": {"field": "t", "type": "quantitative", "axis": null},
            "y": {"field": "v", "type": "quantitative", "axis": null},
            "color": {"field": "s", "type": "nominal", "legend": null}
          }
        },
        {
          "mark": {"type": "rule", "color": "#000", "strokeWidth": 1, "strokeDash": [3.7, 1.6]},
          "encoding": {"y": {"datum": 0, "axis": {"orient": "left", "values": [-250, -150, -100, -50, 50, 100, 150, 250], "labels": false, "title": null, "tickSize": 4}}}
        }
      ]
    },
    {
      "width": 1047, "height": 169.5,
      "data": {"name": "avg"},
      "resolve": {"axis": {"x": "independent", "y": "independent"}},
      "layer": [
        {
          "mark": {"type": "errorbar", "ticks": false, "clip": true, "rule": {"strokeWidth": 2.5, "opacity": 0.5}},
          "encoding": {
            "x": {"field": "t", "type": "quantitative", "scale": {"domain": [2004, 2020.75], "nice": false, "zero": false}, "axis": null},
            "y": {"field": "v", "type": "quantitative", "scale": {"domain": [-22.9, 22.9], "nice": false, "zero": false},
                  "axis": {"orient": "left", "values": [-20, -10, 0, 10, 20], "title": ["Avg. NB TOA", "Residual [μs]"], "titlePadding": 13}},
            "yError": {"field": "e"},
            "color": {"field": "s", "type": "nominal", "scale": {"domain": ["L", "820"], "range": ["#3a72d9", "#4cc13e"]}, "legend": null}
          }
        },
        {
          "mark": {"type": "point", "shape": "M-1,-1L1,1M-1,1L1,-1", "filled": false, "size": 40, "strokeWidth": 1.5, "opacity": 0.7, "clip": true},
          "encoding": {
            "x": {"field": "t", "type": "quantitative", "axis": null},
            "y": {"field": "v", "type": "quantitative", "axis": null},
            "color": {"field": "s", "type": "nominal", "legend": null}
          }
        },
        {
          "mark": {"type": "rule", "color": "#000", "strokeWidth": 1, "strokeDash": [3.7, 1.6]},
          "encoding": {"y": {"datum": 0, "axis": {"orient": "left", "values": [-22, -18, -16, -14, -12, -8, -6, -4, -2, 2, 4, 6, 8, 12, 14, 16, 18, 22], "labels": false, "title": null, "tickSize": 4}}}
        }
      ]
    },
    {
      "width": 1047, "height": 169.5,
      "data": {"name": "wb"},
      "resolve": {"axis": {"x": "independent", "y": "independent"}},
      "layer": [
        {
          "mark": {"type": "errorbar", "ticks": false, "clip": true, "rule": {"strokeWidth": 2.5, "opacity": 0.5}},
          "encoding": {
            "x": {"field": "t", "type": "quantitative", "scale": {"domain": [2004, 2020.75], "nice": false, "zero": false},
                  "axis": {"orient": "bottom", "values": [2004, 2006, 2008, 2010, 2012, 2014, 2016, 2018, 2020], "format": "d", "labelFontSize": 17, "title": "Year", "titleFontSize": 20, "titleX": 512.5, "titlePadding": 10}},
            "y": {"field": "v", "type": "quantitative", "scale": {"domain": [-10.75, 9.66], "nice": false, "zero": false},
                  "axis": {"orient": "left", "values": [-10, -5, 0, 5], "title": ["All WB TOA", "Residual [μs]"], "titlePadding": 13}},
            "yError": {"field": "e"},
            "color": {"field": "s", "type": "nominal", "scale": {"domain": ["L", "820"], "range": ["#3a72d9", "#4cc13e"]},
              "legend": {"orient": "bottom-left", "direction": "horizontal", "columns": 2, "offset": 8, "padding": 5,
                "symbolType": "M0,-1L0,1M-0.45,-0.45L0.45,0.45M-0.45,0.45L0.45,-0.45", "symbolSize": 196, "symbolOffset": 8, "labelOffset": 9, "columnPadding": 2,
                "symbolStrokeWidth": 1.6, "symbolOpacity": 0.7, "symbolFillColor": "transparent",
                "labelExpr": "datum.value === 'L' ? 'GUPPI L' : 'GUPPI 820 MHz'"}}
          }
        },
        {
          "mark": {"type": "point", "shape": "M-1,-1L1,1M-1,1L1,-1", "filled": false, "size": 40, "strokeWidth": 1.5, "opacity": 0.7, "clip": true},
          "encoding": {
            "x": {"field": "t", "type": "quantitative",
                  "axis": {"orient": "bottom", "values": [2004.5, 2005, 2005.5, 2006.5, 2007, 2007.5, 2008.5, 2009, 2009.5, 2010.5, 2011, 2011.5, 2012.5, 2013, 2013.5, 2014.5, 2015, 2015.5, 2016.5, 2017, 2017.5, 2018.5, 2019, 2019.5, 2020.5], "labels": false, "title": null, "tickSize": 4}},
            "y": {"field": "v", "type": "quantitative", "axis": null},
            "color": {"field": "s", "type": "nominal"}
          }
        },
        {
          "mark": {"type": "rule", "color": "#000", "strokeWidth": 1, "strokeDash": [3.7, 1.6]},
          "encoding": {"y": {"datum": 0, "axis": {"orient": "left", "values": [-9, -8, -7, -6, -4, -3, -2, -1, 1, 2, 3, 4, 6, 7, 8, 9], "labels": false, "title": null, "tickSize": 4}}}
        }
      ]
    }
  ]
}
